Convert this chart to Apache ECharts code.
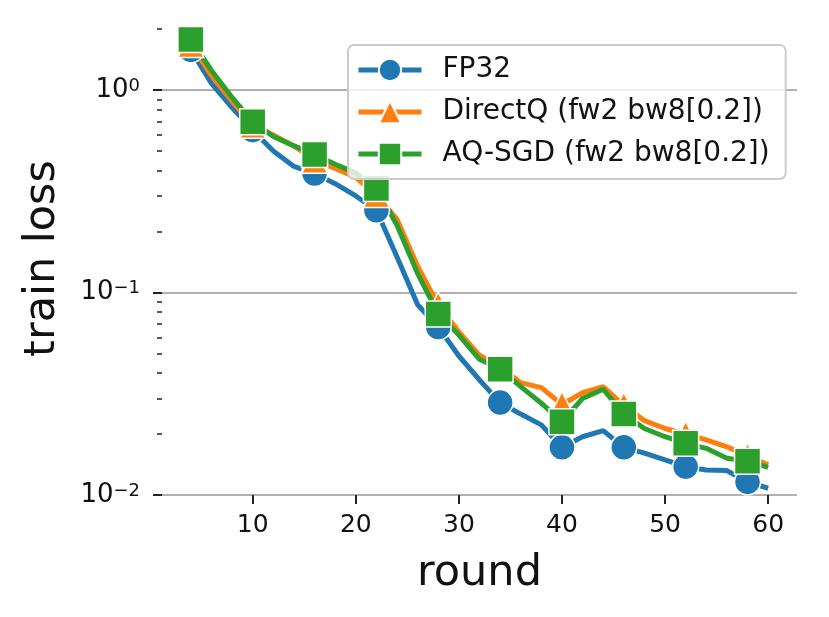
<!DOCTYPE html>
<html>
<head>
<meta charset="utf-8">
<script src="https://cdn.jsdelivr.net/npm/echarts@6/dist/echarts.min.js"></script>
<style>
  html, body { margin: 0; padding: 0; background: #fff; }
  #chart { width: 829px; height: 617px; }
</style>
</head>
<body>
<div id="chart"></div>
<script>
// rounds (markers every 3rd point)
var rounds = [4, 6, 8, 10, 12, 14, 16, 18, 20, 22, 24, 26, 28, 30, 32, 34, 36, 38, 40, 42, 44, 46, 48, 50, 52, 54, 56, 58, 60];

var fp32 = [1.58, 1.08, 0.82, 0.634, 0.50, 0.42, 0.387, 0.345, 0.30, 0.255, 0.150, 0.087, 0.0676, 0.0486, 0.037,
            0.0286, 0.0251, 0.0222, 0.0172, 0.0194, 0.0208, 0.0172, 0.0161, 0.0149, 0.0138, 0.0133, 0.0132, 0.0116, 0.0108];
var directQ = [1.68, 1.18, 0.88, 0.67, 0.60, 0.53, 0.45, 0.41, 0.37, 0.305, 0.23, 0.135, 0.0866, 0.064, 0.049,
               0.043, 0.0359, 0.0339, 0.028, 0.032, 0.0343, 0.0277, 0.0233, 0.0213, 0.0200, 0.0187, 0.0173, 0.0156, 0.0141];
var aqsgd = [1.78, 1.25, 0.92, 0.697, 0.59, 0.53, 0.481, 0.43, 0.39, 0.327, 0.215, 0.124, 0.0783, 0.0617, 0.0468,
             0.0418, 0.0343, 0.0284, 0.0230, 0.030, 0.0333, 0.0251, 0.0213, 0.0194, 0.0180, 0.0170, 0.0152, 0.0147, 0.0137];

var seriesNames = ['FP32', 'DirectQ (fw2 bw8[0.2])', 'AQ-SGD (fw2 bw8[0.2])'];
var xTicks = [10, 20, 30, 40, 50, 60];
var yMajor = [0.01, 0.1, 1];
var yMinor = [0.02, 0.03, 0.04, 0.05, 0.06, 0.07, 0.08, 0.09, 0.2, 0.3, 0.4, 0.5, 0.6, 0.7, 0.8, 0.9, 2];
var yExp = { '0.01': '−2', '0.1': '−1', '1': '0' };

var font = 'DejaVu Sans';
var chart = echarts.init(document.getElementById('chart'));

function pairs(ys) {
    return rounds.map(function (r, i) { return [r, ys[i]]; });
}

function makeSeries(name, ys, color, symbol, size) {
    return {
        name: name,
        type: 'line',
        data: pairs(ys),
        color: color,
        symbol: symbol,
        symbolSize: function (val, params) {
            return params.dataIndex % 3 === 0 ? size : 0;
        },
        showSymbol: true,
        lineStyle: { width: 5, color: color },
        itemStyle: { color: color, borderColor: '#fff', borderWidth: 1.5 },
        emphasis: { disabled: true }
    };
}

option = {
    animation: false,
    textStyle: { fontFamily: font },
    grid: { left: 162, right: 32, top: 22, bottom: 122 },
    legend: {
        orient: 'vertical',
        left: 348,
        top: 45,
        padding: [11, 16, 11, 8],
        itemWidth: 63,
        itemHeight: 28,
        itemGap: 14,
        lineStyle: { width: 5 },
        backgroundColor: 'rgba(255,255,255,0.8)',
        borderColor: '#cccccc',
        borderWidth: 2,
        borderRadius: 6,
        textStyle: { fontSize: 28, color: '#111', fontFamily: font, padding: [0, 0, 0, 16] },
        data: seriesNames
    },
    xAxis: {
        type: 'value',
        min: 1.2,
        max: 62.8,
        name: 'round',
        nameLocation: 'middle',
        nameGap: 57,
        nameTextStyle: { fontSize: 43, color: '#111', fontFamily: font },
        axisLine: { show: false },
        splitLine: { show: false },
        axisTick: { show: true, length: 9, customValues: xTicks, lineStyle: { color: '#222', width: 2 } },
        axisLabel: { customValues: xTicks, fontSize: 25, color: '#111', margin: 18, fontFamily: font }
    },
    yAxis: [
        {
            type: 'log',
            logBase: 10,
            min: 0.01,
            max: 2.17,
            name: 'train loss',
            nameLocation: 'middle',
            nameGap: 98,
            nameTextStyle: { fontSize: 43, color: '#111', fontFamily: font },
            axisLine: { show: false },
            splitLine: { show: true, lineStyle: { color: '#b0b0b0', width: 2 } },
            axisTick: { show: true, length: 9, customValues: yMajor, lineStyle: { color: '#222', width: 2 } },
            axisLabel: {
                customValues: yMajor,
                color: '#111',
                margin: 22,
                fontFamily: font,
                formatter: function (v) {
                    var k = String(+v.toPrecision(3));
                    return yExp[k] ? '{b|10}{s|' + yExp[k] + '}' : '';
                },
                rich: {
                    b: { fontSize: 26, fontFamily: font, color: '#111' },
                    s: { fontSize: 18, fontFamily: font, color: '#111', verticalAlign: 'top' }
                }
            }
        },
        {
            type: 'log',
            logBase: 10,
            min: 0.01,
            max: 2.17,
            position: 'left',
            axisLine: { show: false },
            splitLine: { show: false },
            axisLabel: { show: false },
            axisTick: { show: true, length: 5, customValues: yMinor, lineStyle: { color: '#222', width: 1.5 } }
        }
    ],
    series: [
        makeSeries(seriesNames[0], fp32, '#1f77b4', 'circle', 26),
        makeSeries(seriesNames[1], directQ, '#ff7f0e', 'triangle', 26),
        makeSeries(seriesNames[2], aqsgd, '#2ca02c', 'rect', 26)
    ]
};
chart.setOption(option);
</script>
</body>
</html>
